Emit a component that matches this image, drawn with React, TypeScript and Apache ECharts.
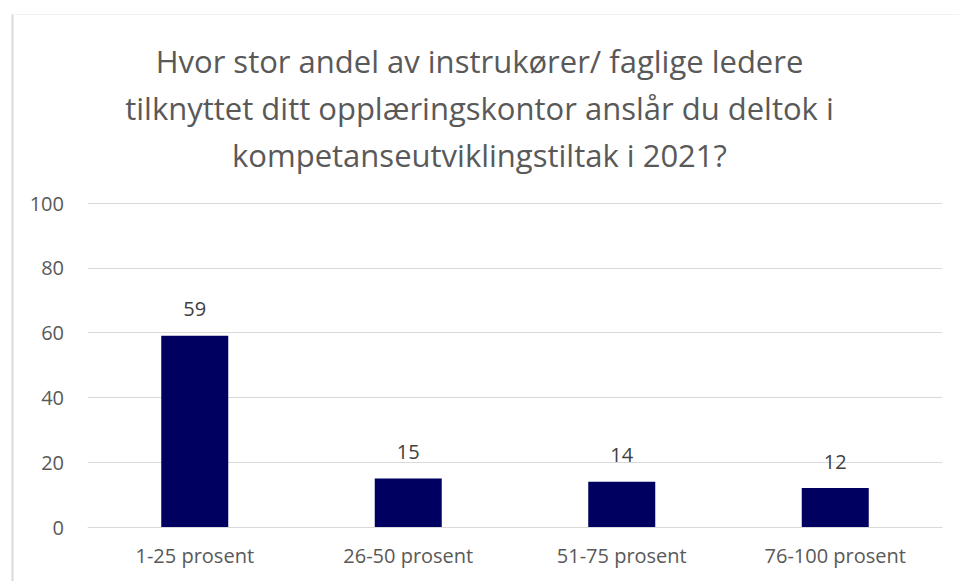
import React, { useEffect, useRef } from "react";
import * as echarts from "echarts";

const categories = ["1-25 prosent", "26-50 prosent", "51-75 prosent", "76-100 prosent"];
const values = [59, 15, 14, 12];
const titleLines = [
  "Hvor stor andel av instrukører/ faglige ledere",
  "tilknyttet ditt opplæringskontor anslår du deltok i",
  "kompetanseutviklingstiltak i 2021?",
];

const FONT = "'Open Sans', 'Noto Sans', sans-serif";

export default function App() {
  const ref = useRef<HTMLDivElement>(null);
  useEffect(() => {
    if (!ref.current) return;
    const chart = echarts.init(ref.current, null, { renderer: "svg" });
    chart.setOption({
      animation: false,
      backgroundColor: "#ffffff",
      title: {
        text: titleLines.join("\n"),
        left: "center",
        top: 32,
        textStyle: {
          fontFamily: FONT,
          fontSize: 31,
          fontWeight: "normal",
          color: "#595959",
          lineHeight: 47,
        },
      },
      graphic: [
        { type: "line", shape: { x1: 12.5, y1: 14, x2: 12.5, y2: 581 }, style: { stroke: "#d9d9d9", lineWidth: 2 } },
        { type: "line", shape: { x1: 12, y1: 14.5, x2: 959, y2: 14.5 }, style: { stroke: "#f2f2f2", lineWidth: 1 } },
      ],
      grid: { left: 88, right: 17, top: 203, bottom: 54 },
      xAxis: {
        type: "category",
        data: categories,
        axisLine: { show: true, lineStyle: { color: "#d9d9d9", width: 1 } },
        axisTick: { show: false },
        axisLabel: { color: "#595959", fontSize: 20, fontFamily: FONT, margin: 18 },
      },
      yAxis: {
        type: "value",
        min: 0,
        max: 100,
        interval: 20,
        axisLine: { show: false },
        axisTick: { show: false },
        splitLine: { lineStyle: { color: "#d9d9d9", width: 1 } },
        axisLabel: { color: "#595959", fontSize: 20, fontFamily: FONT, margin: 24 },
      },
      series: [
        {
          type: "bar",
          data: values,
          barWidth: 67,
          itemStyle: { color: "#000060" },
          label: {
            show: true,
            position: "top",
            distance: 17,
            color: "#404040",
            fontSize: 20,
            fontFamily: FONT,
          },
        },
      ],
    });
    return () => chart.dispose();
  }, []);
  return <div ref={ref} style={{ width: 959, height: 581, position: "fixed", left: 0, top: 0 }} />;
}
